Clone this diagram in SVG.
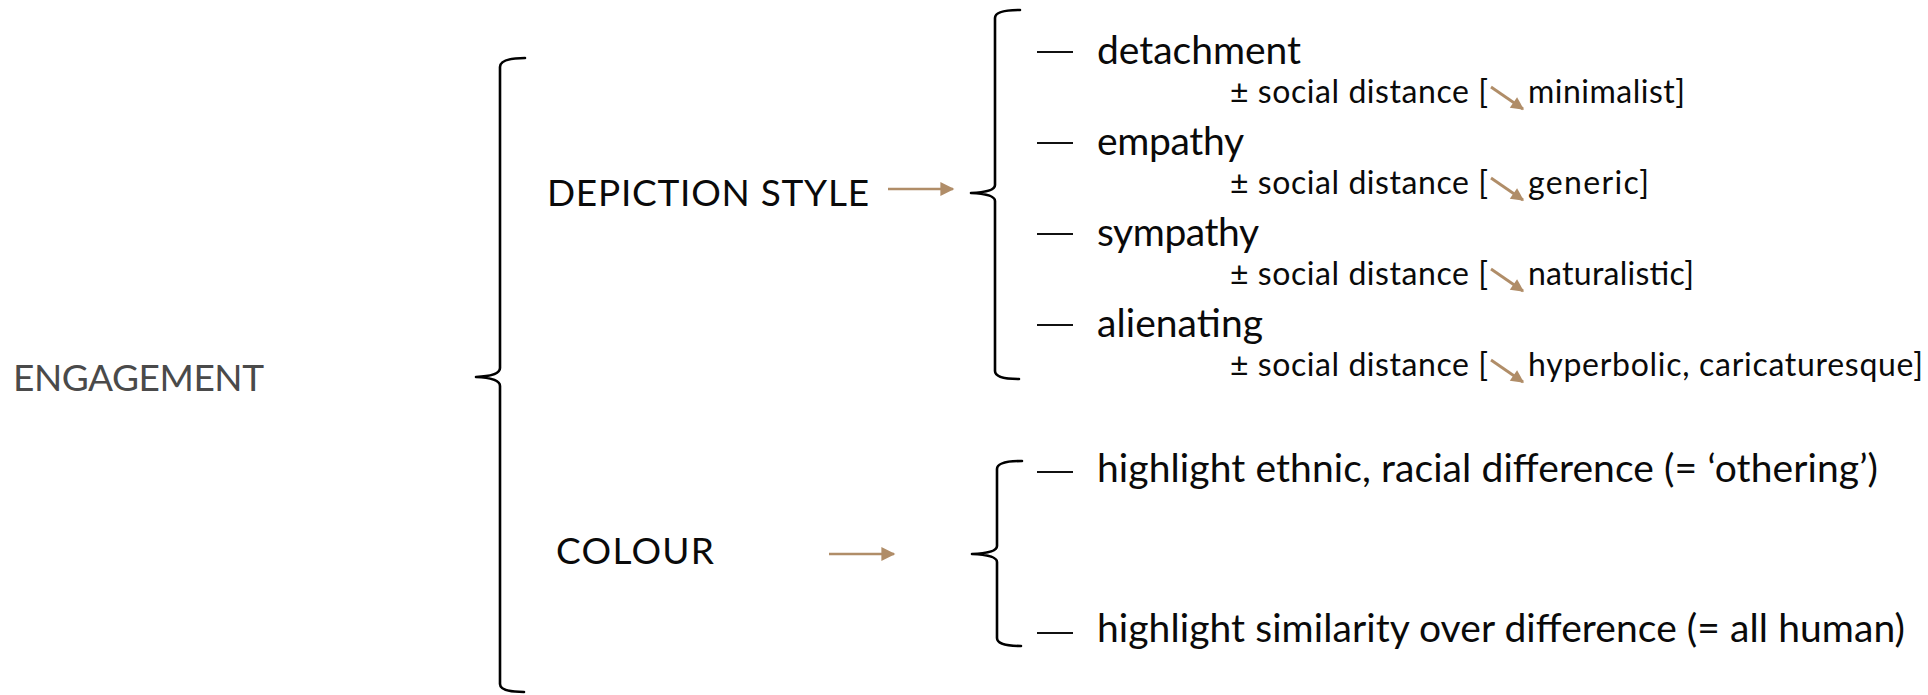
<svg xmlns="http://www.w3.org/2000/svg" width="1928" height="695" viewBox="0 0 1928 695">
  <style>
    text { font-family: Lato, "Open Sans", sans-serif; font-weight: 400; fill: #0a0a0a; }
    .root { font-size: 37px; fill: #4a4a4a; }
    .cat { font-size: 37px; }
    .item { font-size: 39px; }
    .sub { font-size: 32px; }
    .brace { fill: none; stroke: #000; stroke-width: 2.6; stroke-linecap: round; stroke-linejoin: round; }
    .dash { stroke: #111; stroke-width: 2.2; }
    .link { stroke: #b08d68; stroke-width: 2.6; fill: none; }
    .trend { stroke: #b08d68; stroke-width: 2.8; fill: none; }
  </style>
  <defs>
    <marker id="head" viewBox="0 0 10 10" refX="9" refY="5" markerWidth="6.2" markerHeight="5.4" orient="auto" markerUnits="strokeWidth">
      <path d="M0,0 L10,5 L0,10 Z" fill="#b08d68"/>
    </marker>
    <marker id="headSmall" viewBox="0 0 10 10" refX="9" refY="5" markerWidth="5" markerHeight="4.6" orient="auto" markerUnits="strokeWidth">
      <path d="M0,0 L10,5 L0,10 Z" fill="#b08d68"/>
    </marker>
  </defs>

  <!-- root concept -->
  <g id="engagement">
    <text class="root" x="13" y="391" textLength="251">ENGAGEMENT</text>
  </g>

  <!-- main brace grouping the two systems -->
  <g id="brace-main">
    <path class="brace" d="M525,58 Q500,58 500,67 L500,368 Q500,376 476,377 Q500,378 500,386 L500,684 Q500,692 524,692"/>
  </g>

  <!-- system: depiction style -->
  <g id="depiction-style">
    <text class="cat" x="547" y="206" textLength="322">DEPICTION STYLE</text>
  </g>

  <!-- system: colour -->
  <g id="colour">
    <text class="cat" x="556" y="564" textLength="158">COLOUR</text>
  </g>

  <!-- connectors from systems to their option braces -->
  <g id="connectors">
    <line class="link" x1="888" y1="189" x2="953" y2="189" marker-end="url(#head)"/>
    <line class="link" x1="829" y1="554" x2="894" y2="554" marker-end="url(#head)"/>
  </g>

  <!-- depiction style options -->
  <g id="depiction-options">
    <path class="brace" d="M1020,10 Q995,10 995,18 L995,185 Q995,192 971,193 Q995,194 995,201 L995,371 Q995,379 1019,379"/>

    <g id="opt-detachment">
      <line class="dash" x1="1037" y1="52" x2="1073" y2="52"/>
      <text class="item" x="1097" y="64" textLength="204">detachment</text>
      <text class="sub" x="1230" y="103" textLength="258">± social distance [</text>
      <line class="trend" x1="1491" y1="87" x2="1523" y2="109" marker-end="url(#headSmall)"/>
      <text class="sub" x="1528" y="103" textLength="157">minimalist]</text>
    </g>

    <g id="opt-empathy">
      <line class="dash" x1="1037" y1="143" x2="1073" y2="143"/>
      <text class="item" x="1097" y="155" textLength="147">empathy</text>
      <text class="sub" x="1230" y="194" textLength="258">± social distance [</text>
      <line class="trend" x1="1491" y1="178" x2="1523" y2="200" marker-end="url(#headSmall)"/>
      <text class="sub" x="1528" y="194" textLength="121">generic]</text>
    </g>

    <g id="opt-sympathy">
      <line class="dash" x1="1037" y1="234" x2="1073" y2="234"/>
      <text class="item" x="1097" y="246" textLength="162">sympathy</text>
      <text class="sub" x="1230" y="285" textLength="258">± social distance [</text>
      <line class="trend" x1="1491" y1="269" x2="1523" y2="291" marker-end="url(#headSmall)"/>
      <text class="sub" x="1528" y="285" textLength="166">naturalistic]</text>
    </g>

    <g id="opt-alienating">
      <line class="dash" x1="1037" y1="325" x2="1073" y2="325"/>
      <text class="item" x="1097" y="337" textLength="166">alienating</text>
      <text class="sub" x="1230" y="376" textLength="258">± social distance [</text>
      <line class="trend" x1="1491" y1="360" x2="1523" y2="382" marker-end="url(#headSmall)"/>
      <text class="sub" x="1528" y="376" textLength="395">hyperbolic, caricaturesque]</text>
    </g>
  </g>

  <!-- colour options -->
  <g id="colour-options">
    <path class="brace" d="M1022,461 Q997,461 997,469 L997,546 Q997,553 972,554 Q997,555 997,562 L997,638 Q997,646 1021,646"/>

    <g id="opt-othering">
      <line class="dash" x1="1037" y1="472" x2="1073" y2="472"/>
      <text class="item" x="1097" y="482" textLength="781">highlight ethnic, racial difference (= ‘othering’)</text>
    </g>

    <g id="opt-all-human">
      <line class="dash" x1="1037" y1="633" x2="1073" y2="633"/>
      <text class="item" x="1097" y="642" textLength="808">highlight similarity over difference (= all human)</text>
    </g>
  </g>
</svg>
